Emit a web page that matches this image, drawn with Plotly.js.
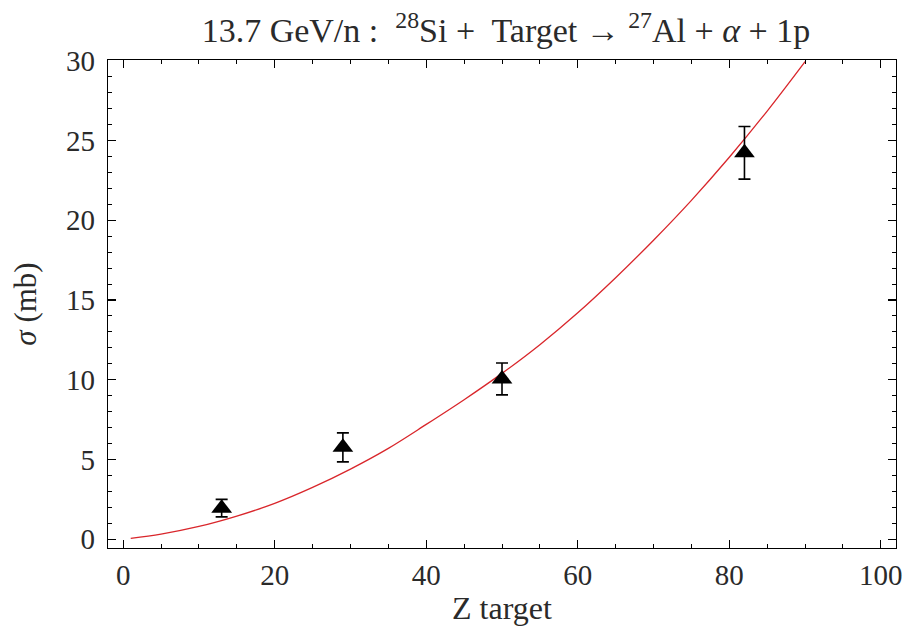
<!DOCTYPE html>
<html>
<head>
<meta charset="utf-8">
<script src="https://cdn.plot.ly/plotly-3.0.1.min.js"></script>
<style>html,body{margin:0;padding:0;background:#fff;}#chart{width:910px;height:636px;}</style>
</head>
<body>
<div id="chart"></div>
<script>
// Measured cross sections (targets Al, Cu, Sn, Pb)
const zTarget = [13, 29, 50, 82];
const sigma = [1.95, 5.76, 10.05, 24.23];
const sigmaErr = [0.55, 0.91, 1.0, 1.65];

// Model curve
const curveZ = [1, 5, 10, 15, 20, 25, 30, 35, 40, 45, 50, 55, 60, 65, 70, 75, 80, 85, 90];
const curveSigma = [0.05, 0.32, 0.8, 1.45, 2.25, 3.25, 4.4, 5.7, 7.2, 8.75, 10.4, 12.2, 14.2, 16.4, 18.75, 21.25, 23.95, 26.85, 29.95];

const serif = 'Liberation Serif, Times New Roman, serif';
const txt = '#2a2a2a';

const traces = [
  {
    x: curveZ, y: curveSigma, type: 'scatter', mode: 'lines',
    line: {color: '#d9262b', width: 1.3, shape: 'spline', smoothing: 1},
    hoverinfo: 'skip'
  },
  {
    x: zTarget, y: sigma, type: 'scatter', mode: 'markers',
    marker: {symbol: 'triangle-up', size: 18, color: '#000'},
    error_y: {type: 'data', array: sigmaErr, visible: true, color: '#000', thickness: 1.6, width: 6}
  }
];

const axisCommon = {
  showline: true, linecolor: '#000', linewidth: 1.3, mirror: 'ticks',
  ticks: 'inside', ticklen: 8, tickwidth: 1.3, tickcolor: '#000',
  showgrid: false, zeroline: false,
  tickfont: {family: serif, size: 29, color: txt}
};

const layout = {
  width: 910, height: 636,
  margin: {l: 108, r: 14, t: 60, b: 88},
  paper_bgcolor: '#fff', plot_bgcolor: '#fff',
  showlegend: false,
  title: {
    text: '13.7 GeV/n :  <sup>28</sup>Si +  Target \u2192 <sup>27</sup>Al + <i>\u03b1</i> + 1p',
    font: {family: serif, size: 34, color: txt},
    xref: 'paper', x: 0.505, xanchor: 'center',
    yref: 'container', y: 0.952, yanchor: 'middle'
  },
  xaxis: Object.assign({}, axisCommon, {
    range: [-2, 102], tickvals: [0, 20, 40, 60, 80, 100],
    minor: {dtick: 5, tick0: 0, ticks: 'inside', ticklen: 4, tickwidth: 1, tickcolor: '#000'},
    ticklabelstandoff: 1
  }),
  yaxis: Object.assign({}, axisCommon, {
    range: [-0.55, 30.05], tickvals: [0, 5, 10, 15, 20, 25, 30],
    minor: {dtick: 1, tick0: 0, ticks: 'inside', ticklen: 4, tickwidth: 1, tickcolor: '#000'},
    ticklabelstandoff: 6,
    title: {text: '<i>\u03c3</i> (mb)', font: {family: serif, size: 31, color: txt}, standoff: 20}
  }),
  annotations: [{
    text: 'Z target', showarrow: false,
    xref: 'paper', x: 0.5, xanchor: 'center',
    yref: 'paper', y: 0, yanchor: 'middle', yshift: -60,
    font: {family: serif, size: 32, color: txt}
  }]
};

Plotly.newPlot('chart', traces, layout, {displayModeBar: false, staticPlot: true});
</script>
</body>
</html>
